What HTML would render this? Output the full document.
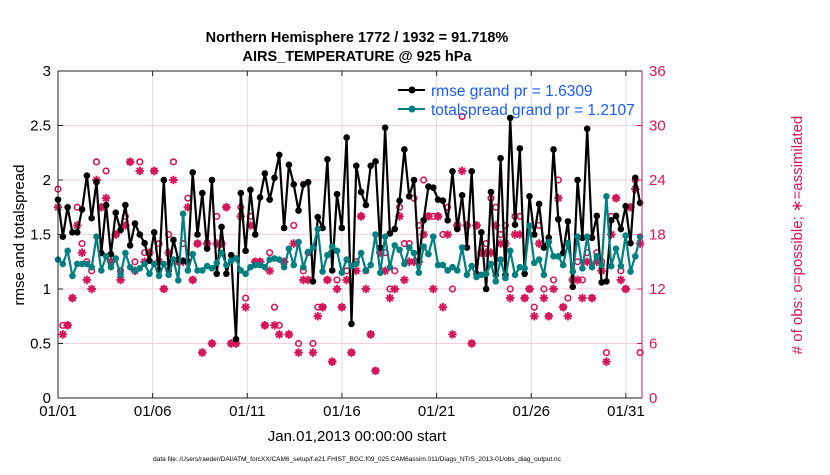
<!DOCTYPE html>
<html><head><meta charset="utf-8">
<style>
html,body{margin:0;padding:0;background:#fff;}
body{width:830px;height:470px;overflow:hidden;font-family:"Liberation Sans",Arial,sans-serif;}
</style></head>
<body>
<svg id="chart" width="830" height="470" xmlns="http://www.w3.org/2000/svg" font-family="Liberation Sans, Arial, sans-serif">
<text x="357" y="42" text-anchor="middle" font-size="14.5" font-weight="bold">Northern Hemisphere 1772 / 1932 = 91.718%</text>
<text x="357" y="61" text-anchor="middle" font-size="14.5" font-weight="bold">AIRS_TEMPERATURE @ 925 hPa</text>
<g id="grid"></g>
<g id="obs"></g>
<g id="series"></g>
<g id="axes"></g>
<text transform="translate(24,235) rotate(-90)" text-anchor="middle" font-size="15">rmse and totalspread</text>
<text transform="translate(802,235) rotate(-90)" text-anchor="middle" font-size="15" fill="#d6165a"># of obs: o=possible; ∗=assimilated</text>
<text x="357" y="441" text-anchor="middle" font-size="15">Jan.01,2013 00:00:00 start</text>
<text x="357" y="461" text-anchor="middle" font-size="6.5">data file: /Users/raeder/DAI/ATM_forcXX/CAM6_setup/f.e21.FHIST_BGC.f09_025.CAM6assim.011/Diags_NTrS_2013-01/obs_diag_output.nc</text>
<g>
<line x1="398" y1="90" x2="425" y2="90" stroke="#000" stroke-width="2"/>
<circle cx="412" cy="90" r="3.5" fill="#000"/>
<text x="431" y="96" font-size="15.5" fill="#1a5cff">rmse grand pr = 1.6309</text>
<line x1="398" y1="109" x2="425" y2="109" stroke="#008080" stroke-width="2"/>
<circle cx="412" cy="109" r="3.5" fill="#008080"/>
<text x="431" y="115" font-size="15.5" fill="#1a5cff">totalspread grand pr = 1.2107</text>
</g>
</svg>
<script>
const rmse=[1.82,1.48,1.75,1.52,1.52,1.73,2.04,1.65,1.98,1.33,1.77,1.32,1.70,1.54,1.77,1.40,1.60,1.50,1.42,1.26,1.52,1.17,2.00,1.17,1.45,1.27,1.26,1.25,2.07,1.50,1.88,1.37,2.00,1.14,1.57,1.14,1.31,0.54,1.88,1.35,1.91,1.50,
1.84,2.06,1.82,2.02,2.23,1.56,2.14,1.96,1.72,1.96,1.98,1.07,1.66,1.56,2.19,1.17,1.87,1.56,2.39,0.68,2.13,1.89,1.77,2.13,2.17,1.38,2.48,1.51,1.55,1.81,2.28,1.85,2.00,1.26,1.63,1.94,1.93,1.82,1.81,
1.63,2.08,1.55,1.86,1.38,2.08,1.14,1.52,1.00,1.89,1.13,2.20,1.13,2.57,1.59,2.29,1.14,1.85,1.50,1.78,1.38,1.47,2.28,1.64,1.33,1.62,1.02,2.00,1.47,2.47,1.47,1.67,1.06,1.07,1.63,1.67,1.55,1.76,1.42,2.02,1.79];
const spread=[1.27,1.23,1.35,1.12,1.23,1.23,1.23,1.20,1.48,1.17,1.30,1.20,1.28,1.13,1.33,1.20,1.17,1.19,1.23,1.14,1.23,1.12,1.23,1.13,1.27,1.08,1.69,1.17,1.32,1.17,1.17,1.21,1.19,1.24,1.33,1.22,1.26,1.28,1.17,1.14,1.20,1.22,
1.22,1.20,1.27,1.28,1.27,1.20,1.37,1.22,1.43,1.20,1.34,1.38,1.55,1.16,1.31,1.39,1.35,1.15,1.27,1.21,1.23,1.33,1.17,1.22,1.50,1.15,1.48,1.20,1.40,1.36,1.23,1.38,1.33,1.15,1.39,1.32,1.48,1.22,1.22,
1.17,1.20,1.17,1.38,1.13,1.21,1.11,1.13,1.14,1.23,1.07,1.27,1.10,1.35,1.13,1.20,1.19,1.58,1.24,1.27,1.13,1.43,1.30,1.30,1.22,1.42,1.16,1.48,1.19,1.48,1.20,1.30,1.22,1.85,1.21,1.37,1.21,1.49,1.16,1.30,1.48];
const possible=[23,8,8,11,21,17,15,14,26,21,25,15,18,14,20,26,15,26,16,16,25,17,12,18,26,15,17,22,13,17,5,17,6,20,17,21,6,6,21,11,20,15,
15,8,16,10,8,15,7,19,6,14,16,6,10,10,13,4,13,10,14,5,15,20,14,7,3,16,16,12,14,21,17,17,22,19,24,20,20,20,18,
21,12,19,31,19,6,19,16,17,22,21,18,19,12,20,20,11,12,10,19,12,9,13,24,10,11,13,15,13,16,11,16,15,5,20,22,14,12,21,24,5];
const assimilated=[21,7,8,11,19,16,13,12,24,21,22,15,18,13,19,26,14,25,15,16,25,15,12,16,24,15,15,21,13,17,5,17,6,17,17,21,6,6,20,10,19,15,
15,8,14,8,7,15,7,17,5,13,13,5,9,10,13,4,12,10,13,5,14,20,12,7,3,16,14,11,12,20,13,15,15,15,18,20,12,20,10,
18,7,19,25,19,6,19,16,16,16,19,17,17,11,18,18,11,12,9,17,11,9,12,22,10,9,13,13,11,15,11,15,14,4,18,22,13,12,21,23,17];
const xTickLabels=["01/01","01/06","01/11","01/16","01/21","01/26","01/31"];
const xTickDays=[1,6,11,16,21,26,31];
const yTicks=[0,0.5,1,1.5,2,2.5,3];
const y2Ticks=[0,6,12,18,24,30,36];
const firstDay=1.0, lastDay=31.75;

const NS="http://www.w3.org/2000/svg";
const L=58,R=642,T=71,B=398;
const dayMin=1,dayMax=31.85;
const xs=d=>L+(d-dayMin)/(dayMax-dayMin)*(R-L);
const ys=v=>B-v/3*(B-T);
const ys2=v=>B-v/36*(B-T);
const dayOf=i=>firstDay+i*(lastDay-firstDay)/(rmse.length-1);
function mk(tag,attrs,parent){const e=document.createElementNS(NS,tag);for(const k in attrs)e.setAttribute(k,attrs[k]);parent.appendChild(e);return e;}
const grid=document.getElementById('grid'),axes=document.getElementById('axes'),obs=document.getElementById('obs'),ser=document.getElementById('series');

xTickDays.forEach((d,i)=>{
  const g=mk('line',{x1:xs(d),x2:xs(d),y1:T,y2:B,stroke:'#dcdcdc','stroke-width':1},grid);
  
  
  mk('line',{x1:xs(d),x2:xs(d),y1:B,y2:B-5,stroke:'#222'},axes);
  mk('line',{x1:xs(d),x2:xs(d),y1:T,y2:T+5,stroke:'#222'},axes);
  const t=mk('text',{x:xs(d),y:B+18,'text-anchor':'middle','font-size':15},axes);
  t.textContent=xTickLabels[i];
  
  
});
y2Ticks.forEach(v=>{
  if(v>0&&v<36){const g=mk('line',{x1:L,x2:R,y1:ys2(v),y2:ys2(v),stroke:'#f4cede','stroke-width':1},grid);
  
  }
  mk('line',{x1:R,x2:R-5,y1:ys2(v),y2:ys2(v),stroke:'#d6165a'},axes);
  const t=mk('text',{x:R+7,y:ys2(v)+5,'font-size':15,fill:'#d6165a'},axes);
  t.textContent=v;
  
  
});
yTicks.forEach(v=>{
  mk('line',{x1:L,x2:L+5,y1:ys(v),y2:ys(v),stroke:'#222'},axes);
  const t=mk('text',{x:L-7,y:ys(v)+5,'text-anchor':'end','font-size':15},axes);
  t.textContent=v;
  
  
});
const lA=mk('line',{x1:L,x2:L,y1:T,y2:B,stroke:'#222'},axes);


const bA=mk('line',{x1:L,x2:R,y1:B,y2:B,stroke:'#222'},axes);


mk('line',{x1:L,x2:R,y1:T,y2:T,stroke:'#222'},axes);
const rA=mk('line',{x1:R,x2:R,y1:T,y2:B,stroke:'#d6165a'},axes);



const MC='#d6165a';
possible.forEach((v,i)=>{
  const c=mk('circle',{cx:xs(dayOf(i)),cy:ys2(v),r:2.8,fill:'none',stroke:MC,'stroke-width':1.6},obs);
  
  
});
assimilated.forEach((v,i)=>{
  const x=xs(dayOf(i)),y=ys2(v),r=4.3;
  const p=mk('path',{d:`M${x-r},${y}H${x+r}M${x},${y-r}V${y+r}M${x-r*0.7},${y-r*0.7}L${x+r*0.7},${y+r*0.7}M${x-r*0.7},${y+r*0.7}L${x+r*0.7},${y-r*0.7}`,stroke:MC,'stroke-width':1.9},obs);
  
  
});
function drawSeries(vals,color,name){
  const pts=vals.map((v,i)=>xs(dayOf(i)).toFixed(1)+','+ys(v).toFixed(1)).join(' ');
  const pl=mk('polyline',{points:pts,fill:'none',stroke:color,'stroke-width':2.2,'stroke-linejoin':'round'},ser);
  
  
  vals.forEach((v,i)=>{
    const c=mk('circle',{cx:xs(dayOf(i)),cy:ys(v),r:3.3,fill:color},ser);
    
    
  });
}
drawSeries(rmse,'#000','rmse');
drawSeries(spread,'#008080','totalspread');
</script>
</body></html>
